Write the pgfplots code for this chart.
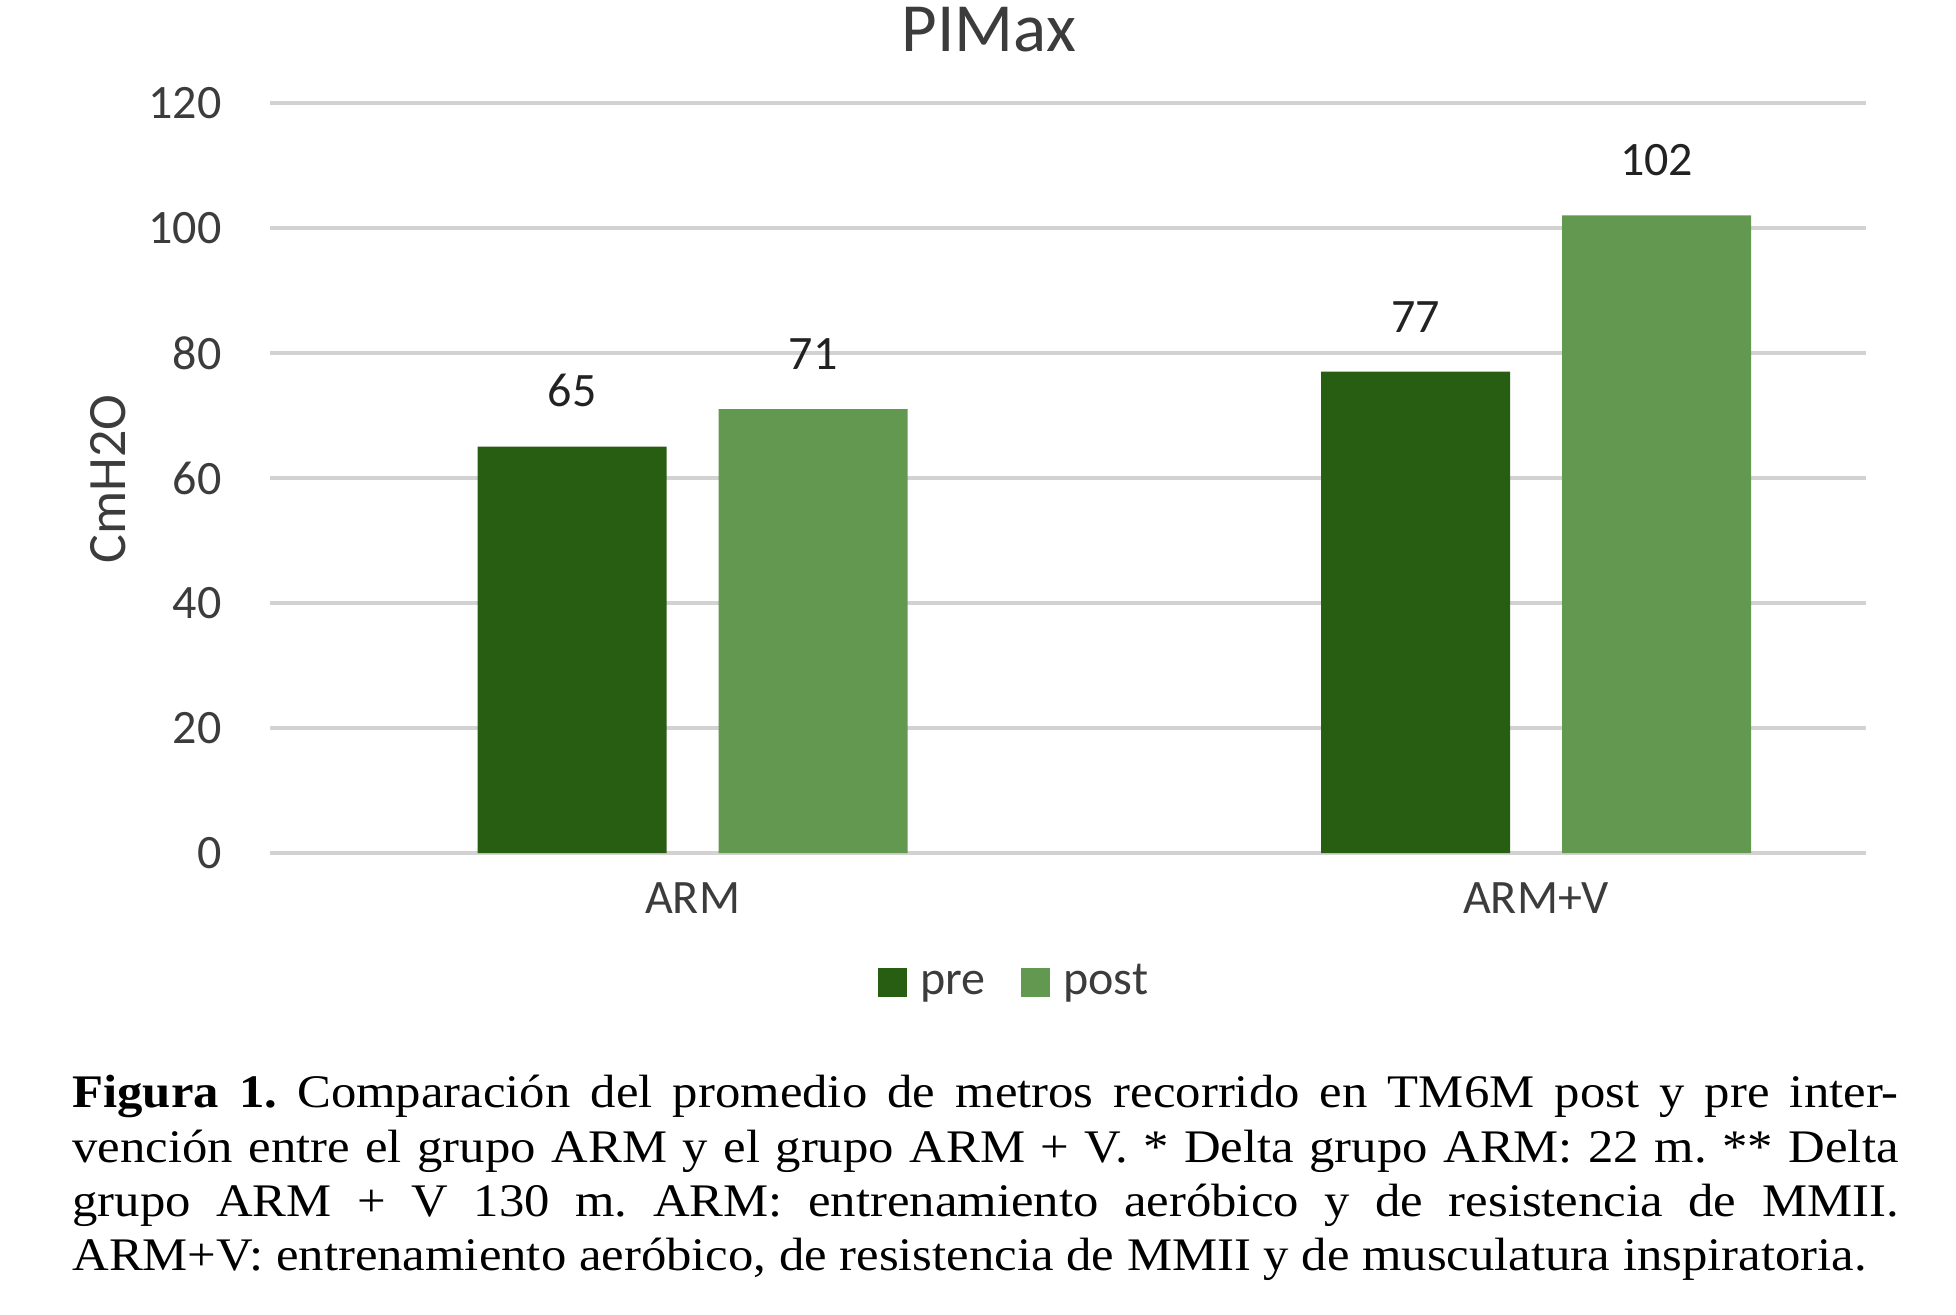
\documentclass[border=0pt]{standalone}
\usepackage{fontspec}
\setmainfont{Carlito}
\newfontfamily\capfont{Liberation Serif}
\usepackage{graphicx}
\usepackage{pgfplots}
\pgfplotsset{compat=1.18}
\definecolor{pre}{RGB}{39,94,18}
\definecolor{post}{RGB}{99,152,80}
\definecolor{gridgray}{RGB}{210,210,210}
\definecolor{tickgray}{RGB}{60,60,60}
\definecolor{labelgray}{RGB}{34,34,34}
\newlength\lA\newlength\lB\newlength\lC\newlength\capw
\begin{document}
\begin{tikzpicture}
\useasboundingbox (0,0) rectangle (978pt,657pt);
\begin{axis}[
  at={(135pt,230.5pt)}, anchor=south west,
  scale only axis, width=798pt, height=375pt,
  clip=false,
  xmin=-0.501, xmax=1.391, ymin=0, ymax=120,
  xtick={0,1}, xticklabels={ARM,ARM+V},
  ytick={0,20,40,60,80,100,120},
  /pgf/number format/assume math mode=true,
  ymajorgrids, grid style={gridgray, line width=1.6pt},
  axis line style={draw=none},
  major tick length=0pt, tick style={draw=none},
  yticklabel style={anchor=east, inner sep=0pt, xshift=-24pt, text=tickgray, font=\fontsize{24pt}{28pt}\selectfont},
  xticklabel style={anchor=north, inner sep=0pt, yshift=-14.5pt, text=tickgray, font=\fontsize{24pt}{28pt}\selectfont},
  ybar, bar width=0.224,
  nodes near coords,
  every node near coord/.append style={anchor=south, inner sep=0pt, yshift=19.5pt, text=labelgray, font=\fontsize{24pt}{28pt}\selectfont},
  legend columns=2,
  legend image code/.code={\path[#1] (0pt,-3.5pt) rectangle (14.5pt,11pt);},
  legend style={draw=none, fill=none, at={(0.381,-0.1737)}, anchor=west, inner sep=0pt, outer sep=0pt,
    font=\fontsize{24pt}{28pt}\selectfont, text=tickgray,
    nodes={inner sep=0pt, text height=0.72em, text depth=0.22em},
    /tikz/every odd column/.append style={column sep=6.5pt},
    /tikz/every even column/.append style={column sep=18pt}},
]
\addplot[fill=pre, draw=none, bar shift=-0.1429] coordinates {(0,65) (1,77)};
\addplot[fill=post, draw=none, bar shift=0.1429] coordinates {(0,71) (1,102)};
\legend{pre,post}
\end{axis}
\node[anchor=base, inner sep=0pt, text=tickgray, font=\fontsize{34.5pt}{40pt}\selectfont] at (494.5pt,631pt) {PIMax};
\node[rotate=90, inner sep=0pt, text=tickgray, font=\fontsize{27pt}{32pt}\selectfont] at (54pt,417.5pt) {CmH2O};
\node[anchor=north west, inner sep=0pt] at (36pt,119.5pt) {%
  \capfont\fontsize{10pt}{11.6pt}\selectfont\frenchspacing
  \settowidth{\lA}{\textbf{Figura 1.} Comparación del promedio de metros recorrido en TM6M post y pre inter-}%
  \settowidth{\lB}{vención entre el grupo ARM y el grupo ARM + V. * Delta grupo ARM: 22 m. ** Delta}%
  \settowidth{\lC}{ARM+V: entrenamiento aeróbico, de resistencia de MMII y de musculatura inspiratoria.}%
  \setlength{\lC}{1.017\lC}%
  \setlength{\capw}{\lA}%
  \ifdim\lB>\capw\setlength{\capw}{\lB}\fi
  \ifdim\lC>\capw\setlength{\capw}{\lC}\fi
  \addtolength{\capw}{0.3pt}%
  \resizebox*{913pt}{102.5pt}{\parbox[b]{\capw}{\capfont\fontsize{10pt}{11.6pt}\selectfont\frenchspacing\noindent
  \textbf{Figura 1.} Comparación del promedio de metros recorrido en TM6M post y pre inter-\linebreak
  vención entre el grupo ARM y el grupo ARM + V. * Delta grupo ARM: 22 m. ** Delta\linebreak
  grupo ARM + V 130 m. ARM: entrenamiento aeróbico y de resistencia de MMII.\linebreak
  ARM+V: entrenamiento aeróbico, de resistencia de MMII y de musculatura inspiratoria.}}%
};
\end{tikzpicture}
\end{document}
